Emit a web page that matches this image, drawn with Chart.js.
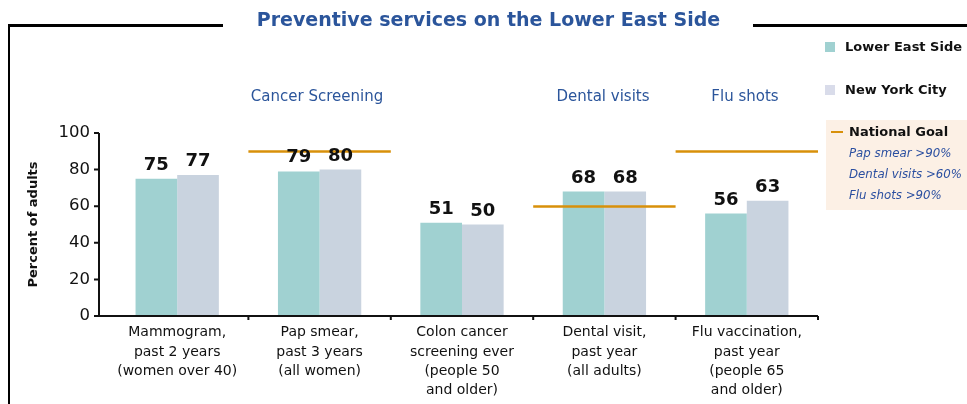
<!DOCTYPE html>
<html>
<head>
<meta charset="utf-8">
<script src="https://cdn.jsdelivr.net/npm/chart.js"></script>
<style>
  html, body { margin: 0; padding: 0; background: #fff; }
  #wrap { position: relative; width: 967px; height: 404px; overflow: hidden; font-family: "DejaVu Sans", sans-serif; }
  #chart { position: absolute; left: 0; top: 0; }
  .frame { position: absolute; background: #000; }
  .title { position: absolute; left: 0; width: 977px; top: 8px; text-align: center; color: #2b559b; font-weight: bold; font-size: 19px; }
  .group { position: absolute; top: 87px; color: #2b559b; font-size: 15px; transform: translateX(-50%); white-space: nowrap; }
  .leg { position: absolute; font-size: 13px; font-weight: bold; color: #111; white-space: nowrap; }
  .sq { position: absolute; width: 10px; height: 10px; }
  .goalbox { position: absolute; left: 826px; top: 120px; width: 141px; height: 90px; background: #fcf0e5; }
  .goalbox .it { position: absolute; left: 23px; font-style: italic; font-size: 11.8px; color: #2b4fa0; white-space: nowrap; }
</style>
</head>
<body>
<div id="wrap">
  <canvas id="chart" width="967" height="404"></canvas>
  <div class="frame" style="left:8px; top:24px; width:215px; height:3px;"></div>
  <div class="frame" style="left:753px; top:24px; width:214px; height:3px;"></div>
  <div class="frame" style="left:8px; top:24px; width:2px; height:380px;"></div>
  <div class="title">Preventive services on the Lower East Side</div>
  <div class="group" style="left:317px;">Cancer Screening</div>
  <div class="group" style="left:603px;">Dental visits</div>
  <div class="group" style="left:745px;">Flu shots</div>
  <div class="sq" style="left:825px; top:42px; background:#a0d1d1;"></div>
  <div class="leg" style="left:845px; top:39px;">Lower East Side</div>
  <div class="sq" style="left:825px; top:85px; background:#d9dcea;"></div>
  <div class="leg" style="left:845px; top:82px;">New York City</div>
  <div class="goalbox">
    <div style="position:absolute; left:5px; top:11px; width:12px; height:2px; background:#d8900a;"></div>
    <div class="leg" style="left:23px; top:4px;">National Goal</div>
    <div class="it" style="top:26px;">Pap smear &gt;90%</div>
    <div class="it" style="top:47px;">Dental visits &gt;60%</div>
    <div class="it" style="top:68px;">Flu shots &gt;90%</div>
  </div>
</div>
<script>
// categories and values
const categories = [
  ['Mammogram,', 'past 2 years', '(women over 40)'],
  ['Pap smear,', 'past 3 years', '(all women)'],
  ['Colon cancer', 'screening ever', '(people 50', 'and older)'],
  ['Dental visit,', 'past year', '(all adults)'],
  ['Flu vaccination,', 'past year', '(people 65', 'and older)']
];
const lowerEastSide = [75, 79, 51, 68, 56];
const newYorkCity = [77, 80, 50, 68, 63];
const nationalGoal = [null, 90, null, 60, 90];
const yTicks = [0, 20, 40, 60, 80, 100];

const FONT = "'DejaVu Sans', sans-serif";

// values above the bars
const valueLabels = {
  id: 'valueLabels',
  afterDatasetsDraw(chart) {
    const ctx = chart.ctx;
    ctx.save();
    ctx.font = 'bold 18px ' + FONT;
    ctx.fillStyle = '#111';
    ctx.textAlign = 'center';
    ctx.textBaseline = 'alphabetic';
    chart.data.datasets.forEach((ds, di) => {
      chart.getDatasetMeta(di).data.forEach((bar, i) => {
        ctx.fillText(String(ds.data[i]), bar.x, bar.y - 9);
      });
    });
    ctx.restore();
  }
};

// axes + goal lines
const axesAndGoals = {
  id: 'axesAndGoals',
  afterDatasetsDraw(chart) {
    const ctx = chart.ctx;
    const xs = chart.scales.x, ys = chart.scales.y;
    const area = chart.chartArea;
    const catW = xs.width / categories.length;
    ctx.save();
    // goal lines
    ctx.strokeStyle = '#d8900a';
    ctx.lineWidth = 2.5;
    nationalGoal.forEach((g, i) => {
      if (g == null) return;
      const cx = xs.getPixelForValue(i);
      const gy = Math.round(ys.getPixelForValue(g)) + 0.5;
      ctx.beginPath();
      ctx.moveTo(cx - catW / 2, gy);
      ctx.lineTo(cx + catW / 2, gy);
      ctx.stroke();
    });
    // axes
    const ax = area.left - 7;
    const y0 = ys.getPixelForValue(0);
    ctx.strokeStyle = '#111';
    ctx.lineWidth = 2;
    ctx.beginPath();
    ctx.moveTo(ax, ys.getPixelForValue(100));
    ctx.lineTo(ax, y0);
    ctx.moveTo(ax - 5, y0);
    ctx.lineTo(area.right, y0);
    yTicks.forEach(t => {
      const ty = ys.getPixelForValue(t);
      ctx.moveTo(ax - 5, ty);
      ctx.lineTo(ax, ty);
    });
    for (let i = 1; i <= categories.length; i++) {
      const tx = area.left + i * catW;
      ctx.moveTo(tx, y0);
      ctx.lineTo(tx, y0 + 4);
    }
    ctx.stroke();
    ctx.restore();
  }
};

new Chart('chart', {
  type: 'bar',
  data: {
    labels: categories,
    datasets: [{
      label: 'Lower East Side',
      data: lowerEastSide,
      backgroundColor: '#a0d1d1',
      categoryPercentage: 0.585,
      barPercentage: 1
    }, {
      label: 'New York City',
      data: newYorkCity,
      backgroundColor: '#c9d3df',
      categoryPercentage: 0.585,
      barPercentage: 1
    }]
  },
  options: {
    responsive: false,
    animation: false,
    layout: { padding: { left: 26, right: 149, top: 133, bottom: 0 } },
    plugins: { legend: { display: false }, tooltip: { enabled: false } },
    scales: {
      x: {
        grid: { display: false, drawTicks: false },
        border: { display: false },
        ticks: {
          color: '#111', padding: 7, maxRotation: 0, autoSkip: false,
          font: { family: FONT, size: 14, lineHeight: 1.38 }
        },
        afterFit(s) { s.height = 88; }
      },
      y: {
        min: 0, max: 100,
        afterBuildTicks(s) { s.ticks = yTicks.map(v => ({ value: v })); },
        grid: { display: false, drawTicks: false },
        border: { display: false },
        ticks: { color: '#111', padding: 16, font: { family: FONT, size: 16.5 } },
        title: {
          display: true, text: 'Percent of adults', color: '#111', padding: 0,
          font: { family: FONT, size: 13, weight: 'bold' }
        },
        afterFit(s) { s.width = 80; }
      }
    }
  },
  plugins: [axesAndGoals, valueLabels]
});
</script>
</body>
</html>
